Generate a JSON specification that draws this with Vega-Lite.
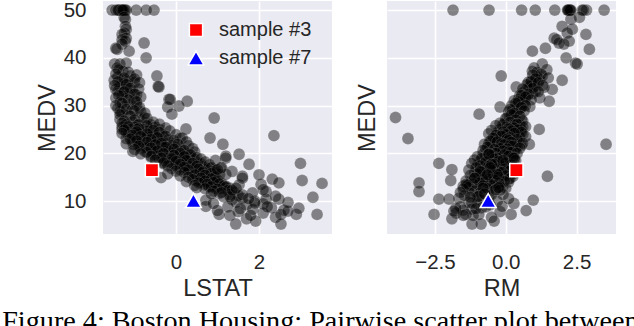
{
  "$schema": "https://vega.github.io/schema/vega-lite/v6.json",
  "background": "white",
  "padding": {"left": 2, "top": 0, "right": 0, "bottom": 0},
  "title": {"text": "Figure 4: Boston Housing: Pairwise scatter plot between", "orient": "bottom", "anchor": "start", "font": "Liberation Serif", "fontSize": 28.2, "fontWeight": "normal", "color": "black", "offset": 8, "dx": -33, "frame": "bounds"},
  "config": {
    "view": {"fill": "#EAEAF2", "stroke": null},
    "axis": {"domain": false, "ticks": false, "tickSize": 0, "grid": true, "gridColor": "white", "gridWidth": 1.6, "labelFont": "Liberation Sans", "labelFontSize": 20.5, "labelColor": "#262626", "titleFont": "Liberation Sans", "titleFontSize": 23.5, "titleFontWeight": "normal", "titleColor": "#262626", "labelPadding": 17},
    "axisX": {"labelPadding": 18.5, "titlePadding": 3},
    "axisY": {"titlePadding": 4}
  },
  "datasets": {
    "boston": [
      {"LSTAT":-1.54,"RM":2.25,"MEDV":50},{"LSTAT":-1.45,"RM":2.2,"MEDV":50},{"LSTAT":-1.35,"RM":2.3,"MEDV":50},{"LSTAT":-1.3,"RM":2.25,"MEDV":50},
      {"LSTAT":-1.28,"RM":2.22,"MEDV":50},{"LSTAT":-1.32,"RM":2.85,"MEDV":50},{"LSTAT":-1.25,"RM":2.75,"MEDV":50},{"LSTAT":-1.2,"RM":3.47,"MEDV":50},
      {"LSTAT":-1.38,"RM":1.73,"MEDV":50},{"LSTAT":-1.22,"RM":1.04,"MEDV":50},{"LSTAT":-0.96,"RM":0.56,"MEDV":50},{"LSTAT":-0.72,"RM":-0.59,"MEDV":50},
      {"LSTAT":-0.53,"RM":-1.86,"MEDV":50},{"LSTAT":-1.4,"RM":2.28,"MEDV":50},{"LSTAT":-1.3,"RM":2.7,"MEDV":50},{"LSTAT":-1.27,"RM":2.18,"MEDV":50},
      {"LSTAT":-1.22,"RM":2.3,"MEDV":48.1},{"LSTAT":-1.25,"RM":2.6,"MEDV":48.5},{"LSTAT":-1.22,"RM":1.99,"MEDV":46.6},{"LSTAT":-1.2,"RM":2.35,"MEDV":46},
      {"LSTAT":-1.24,"RM":2.17,"MEDV":45.2},{"LSTAT":-1.3,"RM":2.83,"MEDV":44.9},{"LSTAT":-1.2,"RM":1.71,"MEDV":44.1},{"LSTAT":-1.3,"RM":1.8,"MEDV":43.8},
      {"LSTAT":-1.22,"RM":2.24,"MEDV":43.5},{"LSTAT":-0.77,"RM":1.88,"MEDV":43.1},{"LSTAT":-1.3,"RM":2.05,"MEDV":42.9},{"LSTAT":-1.42,"RM":2.95,"MEDV":41.8},
      {"LSTAT":-1.13,"RM":0.94,"MEDV":41.4},{"LSTAT":-0.72,"RM":2.13,"MEDV":40},{"LSTAT":-1.2,"RM":2.46,"MEDV":38.9},{"LSTAT":-1.48,"RM":2.52,"MEDV":38.7},
      {"LSTAT":-1.49,"RM":1.99,"MEDV":35.3},
      {"LSTAT":-1.35,"RM":1.29,"MEDV":38.7},{"LSTAT":-1.42,"RM":1.0,"MEDV":37.9},{"LSTAT":-1.28,"RM":0.94,"MEDV":37.2},{"LSTAT":-1.1,"RM":1.29,"MEDV":36.2},
      {"LSTAT":-0.46,"RM":-0.16,"MEDV":36.2},{"LSTAT":-1.4,"RM":1.1,"MEDV":36},{"LSTAT":-1.3,"RM":1.2,"MEDV":35.4},{"LSTAT":-1.15,"RM":0.9,"MEDV":35.1},
      {"LSTAT":-1.45,"RM":1.64,"MEDV":33.4},{"LSTAT":-1.0,"RM":0.8,"MEDV":34.9},{"LSTAT":-0.41,"RM":0.37,"MEDV":33.9},{"LSTAT":-1.25,"RM":1.0,"MEDV":34.6},
      {"LSTAT":-1.35,"RM":0.85,"MEDV":34},{"LSTAT":-1.18,"RM":1.35,"MEDV":33.8},{"LSTAT":-1.05,"RM":0.7,"MEDV":33.2},{"LSTAT":-1.4,"RM":1.05,"MEDV":33},
      {"LSTAT":-1.28,"RM":0.6,"MEDV":32.7},{"LSTAT":-1.12,"RM":0.95,"MEDV":32.5},{"LSTAT":-0.95,"RM":0.5,"MEDV":32.2},{"LSTAT":-1.3,"RM":0.75,"MEDV":32},
      {"LSTAT":-1.45,"RM":1.2,"MEDV":31.6},{"LSTAT":-0.17,"RM":0.45,"MEDV":31.3},{"LSTAT":-1.2,"RM":0.55,"MEDV":31.5},{"LSTAT":-1.0,"RM":0.3,"MEDV":31},
      {"LSTAT":0.27,"RM":1.53,"MEDV":30.9},{"LSTAT":-1.35,"RM":0.65,"MEDV":30.7},{"LSTAT":-1.1,"RM":0.4,"MEDV":30.3},{"LSTAT":0.07,"RM":0.2,"MEDV":29.9},
      {"LSTAT":-0.95,"RM":0.6,"MEDV":30.1},{"LSTAT":-1.25,"RM":0.85,"MEDV":29.8},{"LSTAT":-0.2,"RM":-0.2,"MEDV":29.7},{"LSTAT":-1.4,"RM":0.5,"MEDV":29.4},
      {"LSTAT":-1.05,"RM":0.25,"MEDV":29.1},{"LSTAT":-0.85,"RM":0.1,"MEDV":28.7},{"LSTAT":-1.3,"RM":0.35,"MEDV":28.5},{"LSTAT":-0.1,"RM":-0.94,"MEDV":28.2},
      {"LSTAT":-1.15,"RM":0.3,"MEDV":28},{"LSTAT":-0.9,"RM":0.15,"MEDV":27.5},{"LSTAT":0.92,"RM":0.05,"MEDV":27.4},{"LSTAT":-1.35,"RM":0.55,"MEDV":27.1},
      {"LSTAT":-1.05,"RM":0.45,"MEDV":26.6},{"LSTAT":-0.75,"RM":0.2,"MEDV":26.4},{"LSTAT":-1.2,"RM":-0.05,"MEDV":26.2},{"LSTAT":-0.95,"RM":0.35,"MEDV":25.9},
      {"LSTAT":-1.3,"RM":0.1,"MEDV":25},
      {"LSTAT":-0.77,"RM":-3.89,"MEDV":27.5},{"LSTAT":0.1,"RM":-3.45,"MEDV":23.1},{"LSTAT":-1.03,"RM":3.54,"MEDV":21.9},{"LSTAT":2.36,"RM":-0.3,"MEDV":23.7},
      {"LSTAT":-0.6,"RM":1.18,"MEDV":25},{"LSTAT":-0.85,"RM":0.83,"MEDV":21.9},
      {"LSTAT":-0.43,"RM":1.0,"MEDV":34},{"LSTAT":-0.14,"RM":0.6,"MEDV":31.3},{"LSTAT":0.24,"RM":0.45,"MEDV":25.1},{"LSTAT":0.82,"RM":0.3,"MEDV":23.2},
      {"LSTAT":1.13,"RM":-0.2,"MEDV":21.9},{"LSTAT":1.2,"RM":-0.45,"MEDV":19.4},{"LSTAT":1.08,"RM":0.05,"MEDV":16.9},{"LSTAT":-1.45,"RM":1.4,"MEDV":42},
      {"LSTAT":-1.35,"RM":0.4,"MEDV":28.8},{"LSTAT":-1.04,"RM":-0.3,"MEDV":20.4},
      {"LSTAT":-1.38,"RM":1.45,"MEDV":37.5},{"LSTAT":-1.15,"RM":1.1,"MEDV":37},{"LSTAT":-1.45,"RM":1.25,"MEDV":36.6},{"LSTAT":-0.95,"RM":0.95,"MEDV":36.4},
      {"LSTAT":-1.25,"RM":1.5,"MEDV":35.8},{"LSTAT":-1.0,"RM":1.05,"MEDV":35.6},{"LSTAT":-1.4,"RM":0.9,"MEDV":35},{"LSTAT":-0.88,"RM":1.15,"MEDV":34.8},
      {"LSTAT":-1.2,"RM":0.75,"MEDV":34.4},{"LSTAT":-1.48,"RM":1.3,"MEDV":34.2},{"LSTAT":-1.1,"RM":0.95,"MEDV":33.6},{"LSTAT":-0.9,"RM":0.6,"MEDV":33.5},
      {"LSTAT":-1.25,"RM":1.15,"MEDV":32.9},{"LSTAT":-1.0,"RM":0.8,"MEDV":32.4},{"LSTAT":-1.38,"RM":0.55,"MEDV":32.1},{"LSTAT":-0.85,"RM":0.7,"MEDV":31.8},
      {"LSTAT":-1.15,"RM":0.9,"MEDV":31.2},{"LSTAT":-0.95,"RM":0.45,"MEDV":30.8},{"LSTAT":-1.3,"RM":0.35,"MEDV":30.5},{"LSTAT":-1.45,"RM":0.7,"MEDV":30},
      {"LSTAT":-0.88,"RM":0.55,"MEDV":29.6},{"LSTAT":-1.2,"RM":0.15,"MEDV":29.2},{"LSTAT":-1.0,"RM":0.65,"MEDV":28.9},{"LSTAT":-0.75,"RM":0.3,"MEDV":28.4},
      {"LSTAT":-1.35,"RM":0.2,"MEDV":28.1},{"LSTAT":-1.1,"RM":0.5,"MEDV":27.8},{"LSTAT":-0.7,"RM":0.0,"MEDV":27.3},{"LSTAT":-1.0,"RM":0.35,"MEDV":27},
      {"LSTAT":-1.25,"RM":0.6,"MEDV":26.8},{"LSTAT":-0.55,"RM":0.15,"MEDV":26.5},
      {"LSTAT":-1.2,"RM":0.5,"MEDV":26},{"LSTAT":-0.6,"RM":-0.1,"MEDV":26},{"LSTAT":-0.9,"RM":0.3,"MEDV":26},
      {"LSTAT":-1.0,"RM":0.0,"MEDV":25.5},{"LSTAT":-0.5,"RM":0.6,"MEDV":25.5},{"LSTAT":-1.3,"RM":0.25,"MEDV":25.5},
      {"LSTAT":-0.8,"RM":0.4,"MEDV":25},{"LSTAT":-1.1,"RM":-0.2,"MEDV":25},{"LSTAT":-0.4,"RM":0.1,"MEDV":25},{"LSTAT":-0.95,"RM":0.55,"MEDV":25},
      {"LSTAT":-0.7,"RM":0.2,"MEDV":24.6},{"LSTAT":-1.2,"RM":0.0,"MEDV":24.6},
      {"LSTAT":-0.55,"RM":-0.3,"MEDV":24.3},{"LSTAT":-0.85,"RM":0.45,"MEDV":24.3},{"LSTAT":-1.0,"RM":0.15,"MEDV":24.3},
      {"LSTAT":-0.65,"RM":0.3,"MEDV":24},{"LSTAT":-1.15,"RM":-0.1,"MEDV":24},{"LSTAT":-0.35,"RM":0.05,"MEDV":24},{"LSTAT":-0.9,"RM":0.6,"MEDV":24},
      {"LSTAT":-0.75,"RM":-0.2,"MEDV":23.7},{"LSTAT":-0.5,"RM":0.35,"MEDV":23.7},
      {"LSTAT":-1.05,"RM":0.25,"MEDV":23.4},{"LSTAT":-0.6,"RM":-0.05,"MEDV":23.4},{"LSTAT":-0.3,"RM":0.5,"MEDV":23.4},
      {"LSTAT":-0.8,"RM":0.1,"MEDV":23.1},{"LSTAT":-0.45,"RM":-0.35,"MEDV":23.1},{"LSTAT":-1.2,"RM":0.4,"MEDV":23.1},
      {"LSTAT":-0.65,"RM":0.0,"MEDV":22.8},{"LSTAT":-0.95,"RM":-0.25,"MEDV":22.8},{"LSTAT":-0.2,"RM":0.2,"MEDV":22.8},
      {"LSTAT":-0.5,"RM":0.45,"MEDV":22.5},{"LSTAT":-0.85,"RM":-0.1,"MEDV":22.5},{"LSTAT":-0.35,"RM":-0.5,"MEDV":22.5},{"LSTAT":-1.05,"RM":0.15,"MEDV":22.5},
      {"LSTAT":-0.6,"RM":0.3,"MEDV":22.2},{"LSTAT":-0.15,"RM":-0.2,"MEDV":22.2},{"LSTAT":-0.75,"RM":-0.4,"MEDV":22.2},
      {"LSTAT":-0.45,"RM":0.05,"MEDV":22},{"LSTAT":-0.9,"RM":0.35,"MEDV":22},{"LSTAT":-0.25,"RM":-0.6,"MEDV":22},
      {"LSTAT":-0.55,"RM":-0.15,"MEDV":21.7},{"LSTAT":-0.1,"RM":0.25,"MEDV":21.7},{"LSTAT":-0.8,"RM":0.55,"MEDV":21.7},{"LSTAT":-0.35,"RM":-0.35,"MEDV":21.7},
      {"LSTAT":-0.65,"RM":0.1,"MEDV":21.4},{"LSTAT":-0.2,"RM":-0.05,"MEDV":21.4},{"LSTAT":-0.45,"RM":0.4,"MEDV":21.4},
      {"LSTAT":0.0,"RM":-0.3,"MEDV":21.2},{"LSTAT":-0.7,"RM":-0.55,"MEDV":21.2},{"LSTAT":-0.3,"RM":0.2,"MEDV":21.2},
      {"LSTAT":-0.5,"RM":-0.2,"MEDV":21},{"LSTAT":-0.15,"RM":0.35,"MEDV":21},{"LSTAT":-0.85,"RM":0.0,"MEDV":21},{"LSTAT":0.1,"RM":-0.45,"MEDV":21},
      {"LSTAT":-0.4,"RM":0.15,"MEDV":20.7},{"LSTAT":-0.05,"RM":-0.25,"MEDV":20.7},{"LSTAT":-0.6,"RM":-0.7,"MEDV":20.7},
      {"LSTAT":-0.25,"RM":0.0,"MEDV":20.4},{"LSTAT":0.15,"RM":-0.5,"MEDV":20.4},{"LSTAT":-0.55,"RM":0.3,"MEDV":20.4},{"LSTAT":-0.75,"RM":-0.3,"MEDV":20.4},
      {"LSTAT":-0.1,"RM":-0.1,"MEDV":20.1},{"LSTAT":-0.4,"RM":-0.45,"MEDV":20.1},{"LSTAT":0.2,"RM":0.2,"MEDV":20.1},
      {"LSTAT":-0.3,"RM":-0.8,"MEDV":19.8},{"LSTAT":0.05,"RM":0.1,"MEDV":19.8},{"LSTAT":-0.55,"RM":-0.15,"MEDV":19.8},{"LSTAT":0.3,"RM":-0.35,"MEDV":19.8},
      {"LSTAT":-0.15,"RM":0.25,"MEDV":19.5},{"LSTAT":0.15,"RM":-0.6,"MEDV":19.5},{"LSTAT":-0.45,"RM":0.0,"MEDV":19.5},
      {"LSTAT":0.0,"RM":-0.3,"MEDV":19.2},{"LSTAT":-0.3,"RM":0.15,"MEDV":19.2},{"LSTAT":0.35,"RM":-0.1,"MEDV":19.2},{"LSTAT":-0.6,"RM":-0.5,"MEDV":19.2},
      {"LSTAT":0.1,"RM":-0.75,"MEDV":19},{"LSTAT":-0.2,"RM":-0.2,"MEDV":19},
      {"LSTAT":0.2,"RM":0.05,"MEDV":18.7},{"LSTAT":-0.1,"RM":-0.4,"MEDV":18.7},{"LSTAT":0.45,"RM":-0.55,"MEDV":18.7},{"LSTAT":-0.4,"RM":0.3,"MEDV":18.7},
      {"LSTAT":0.05,"RM":-0.15,"MEDV":18.4},{"LSTAT":0.3,"RM":-0.9,"MEDV":18.4},{"LSTAT":-0.25,"RM":-0.6,"MEDV":18.4},
      {"LSTAT":0.15,"RM":0.2,"MEDV":18.1},{"LSTAT":0.5,"RM":-0.3,"MEDV":18.1},{"LSTAT":-0.15,"RM":-0.05,"MEDV":18.1},
      {"LSTAT":0.3,"RM":-0.5,"MEDV":17.8},{"LSTAT":0.0,"RM":-0.75,"MEDV":17.8},{"LSTAT":0.6,"RM":0.0,"MEDV":17.8},{"LSTAT":-0.3,"RM":-0.3,"MEDV":17.8},
      {"LSTAT":0.2,"RM":-0.2,"MEDV":17.5},{"LSTAT":0.45,"RM":-1.0,"MEDV":17.5},{"LSTAT":-0.05,"RM":0.1,"MEDV":17.5},
      {"LSTAT":0.35,"RM":-0.45,"MEDV":17.2},{"LSTAT":0.65,"RM":-0.15,"MEDV":17.2},{"LSTAT":0.1,"RM":-0.65,"MEDV":17.2},
      {"LSTAT":0.5,"RM":-0.3,"MEDV":16.9},{"LSTAT":0.25,"RM":0.05,"MEDV":16.9},{"LSTAT":0.8,"RM":-0.8,"MEDV":16.9},
      {"LSTAT":0.4,"RM":-0.6,"MEDV":16.6},{"LSTAT":0.7,"RM":-0.1,"MEDV":16.6},{"LSTAT":0.1,"RM":-0.9,"MEDV":16.6},
      {"LSTAT":0.55,"RM":-0.35,"MEDV":16.2},{"LSTAT":0.3,"RM":-0.75,"MEDV":16.2},{"LSTAT":0.85,"RM":0.15,"MEDV":16.2},
      {"LSTAT":0.65,"RM":-0.5,"MEDV":15.9},{"LSTAT":0.45,"RM":-0.2,"MEDV":15.9},{"LSTAT":0.95,"RM":-1.1,"MEDV":15.9},
      {"LSTAT":0.75,"RM":-0.3,"MEDV":15.6},{"LSTAT":0.5,"RM":-0.85,"MEDV":15.6},{"LSTAT":1.05,"RM":-0.05,"MEDV":15.6},
      {"LSTAT":0.6,"RM":-0.6,"MEDV":15.2},{"LSTAT":0.85,"RM":-0.4,"MEDV":15.2},{"LSTAT":0.4,"RM":0.25,"MEDV":15.2},
      {"LSTAT":0.7,"RM":-0.95,"MEDV":14.9},{"LSTAT":-0.36,"RM":-0.7,"MEDV":14.9},{"LSTAT":0.95,"RM":-0.2,"MEDV":14.9},
      {"LSTAT":0.55,"RM":-0.45,"MEDV":14.6},{"LSTAT":0.8,"RM":-0.75,"MEDV":14.6},{"LSTAT":2.32,"RM":0.1,"MEDV":14.6},
      {"LSTAT":0.65,"RM":-0.15,"MEDV":14.3},{"LSTAT":0.9,"RM":-1.2,"MEDV":14.3},{"LSTAT":0.5,"RM":-0.55,"MEDV":14.3},
      {"LSTAT":0.75,"RM":-0.35,"MEDV":14},{"LSTAT":1.0,"RM":-0.8,"MEDV":14},{"LSTAT":0.6,"RM":0.1,"MEDV":14},
      {"LSTAT":0.85,"RM":-0.6,"MEDV":13.7},{"LSTAT":3.52,"RM":-0.9,"MEDV":13.7},{"LSTAT":1.1,"RM":-0.25,"MEDV":13.7},
      {"LSTAT":1.52,"RM":-1.3,"MEDV":13.4},{"LSTAT":0.9,"RM":-0.45,"MEDV":13.4},{"LSTAT":0.7,"RM":-0.95,"MEDV":13.4},
      {"LSTAT":1.0,"RM":-0.7,"MEDV":13.1},{"LSTAT":1.2,"RM":-0.1,"MEDV":13.1},{"LSTAT":0.8,"RM":-1.5,"MEDV":13.1},
      {"LSTAT":1.1,"RM":-0.55,"MEDV":12.7},{"LSTAT":1.3,"RM":-1.0,"MEDV":12.7},{"LSTAT":0.95,"RM":0.0,"MEDV":12.7},
      {"LSTAT":-1.3,"RM":-0.2,"MEDV":26.3},{"LSTAT":-0.4,"RM":0.4,"MEDV":26.1},{"LSTAT":-0.7,"RM":-0.35,"MEDV":25.8},{"LSTAT":-1.15,"RM":0.7,"MEDV":25.6},
      {"LSTAT":-0.25,"RM":0.3,"MEDV":25.3},{"LSTAT":-0.9,"RM":0.1,"MEDV":25.2},{"LSTAT":-1.25,"RM":0.45,"MEDV":24.9},{"LSTAT":-0.55,"RM":-0.5,"MEDV":24.8},
      {"LSTAT":-0.15,"RM":0.2,"MEDV":24.7},{"LSTAT":-0.95,"RM":-0.1,"MEDV":24.5},{"LSTAT":-0.4,"RM":0.55,"MEDV":24.4},{"LSTAT":-1.3,"RM":0.3,"MEDV":24.2},
      {"LSTAT":-0.7,"RM":-0.6,"MEDV":24.1},{"LSTAT":0.0,"RM":0.0,"MEDV":23.9},{"LSTAT":-1.05,"RM":-0.35,"MEDV":23.8},{"LSTAT":-0.25,"RM":-0.15,"MEDV":23.6},
      {"LSTAT":-0.85,"RM":0.7,"MEDV":23.5},{"LSTAT":-0.45,"RM":0.15,"MEDV":23.3},{"LSTAT":0.15,"RM":-0.45,"MEDV":23.2},{"LSTAT":-1.1,"RM":0.05,"MEDV":23},
      {"LSTAT":-0.6,"RM":0.4,"MEDV":22.9},{"LSTAT":-0.05,"RM":0.1,"MEDV":22.7},{"LSTAT":-0.95,"RM":-0.55,"MEDV":22.6},{"LSTAT":0.25,"RM":-0.3,"MEDV":22.4},
      {"LSTAT":-0.7,"RM":0.2,"MEDV":22.3},{"LSTAT":-0.35,"RM":0.6,"MEDV":22.1},{"LSTAT":-1.2,"RM":-0.15,"MEDV":22},{"LSTAT":0.05,"RM":-0.75,"MEDV":21.9},
      {"LSTAT":-0.5,"RM":-0.05,"MEDV":21.8},{"LSTAT":0.3,"RM":0.15,"MEDV":21.6},{"LSTAT":-0.9,"RM":0.25,"MEDV":21.5},{"LSTAT":-0.25,"RM":-0.65,"MEDV":21.3},
      {"LSTAT":-0.6,"RM":0.5,"MEDV":21.1},{"LSTAT":0.4,"RM":-0.2,"MEDV":21},{"LSTAT":-0.05,"RM":0.05,"MEDV":20.9},{"LSTAT":-1.0,"RM":-0.4,"MEDV":20.8},
      {"LSTAT":0.2,"RM":-0.8,"MEDV":20.6},{"LSTAT":-0.45,"RM":-0.1,"MEDV":20.5},{"LSTAT":0.45,"RM":0.1,"MEDV":20.3},{"LSTAT":-0.7,"RM":0.2,"MEDV":20.2},
      {"LSTAT":0.1,"RM":-0.35,"MEDV":20},{"LSTAT":-0.3,"RM":0.4,"MEDV":20},{"LSTAT":-0.85,"RM":-0.6,"MEDV":19.9},{"LSTAT":0.35,"RM":-0.05,"MEDV":19.7},
      {"LSTAT":-0.05,"RM":-0.5,"MEDV":19.6},{"LSTAT":-0.6,"RM":0.1,"MEDV":19.4},{"LSTAT":0.2,"RM":-1.0,"MEDV":19.3},{"LSTAT":0.5,"RM":0.25,"MEDV":19.1},
      {"LSTAT":-0.35,"RM":-0.3,"MEDV":19},{"LSTAT":-0.1,"RM":-0.85,"MEDV":18.9},{"LSTAT":0.6,"RM":-0.4,"MEDV":18.8},{"LSTAT":-0.5,"RM":-1.1,"MEDV":18.6},
      {"LSTAT":0.25,"RM":0.35,"MEDV":18.5},{"LSTAT":0.0,"RM":-0.25,"MEDV":18.3},{"LSTAT":0.7,"RM":-0.7,"MEDV":18.2},{"LSTAT":-0.3,"RM":0.0,"MEDV":18},
      {"LSTAT":0.4,"RM":-1.2,"MEDV":17.9},{"LSTAT":0.1,"RM":-0.4,"MEDV":17.7},{"LSTAT":0.8,"RM":0.2,"MEDV":17.6},{"LSTAT":-0.2,"RM":-0.9,"MEDV":17.4},
      {"LSTAT":0.5,"RM":-0.6,"MEDV":17.3},{"LSTAT":0.2,"RM":0.3,"MEDV":17.1},{"LSTAT":0.85,"RM":-1.05,"MEDV":17},{"LSTAT":-0.1,"RM":-0.3,"MEDV":16.8},
      {"LSTAT":0.55,"RM":-0.05,"MEDV":16.7},{"LSTAT":0.3,"RM":-1.3,"MEDV":16.5},{"LSTAT":0.95,"RM":-0.5,"MEDV":16.4},{"LSTAT":0.0,"RM":0.15,"MEDV":16.3},
      {"LSTAT":0.65,"RM":-0.85,"MEDV":16.1},{"LSTAT":0.2,"RM":-0.15,"MEDV":16},{"LSTAT":0.85,"RM":0.3,"MEDV":15.8},{"LSTAT":-0.2,"RM":-1.0,"MEDV":15.7},
      {"LSTAT":0.45,"RM":-0.45,"MEDV":15.5},{"LSTAT":0.7,"RM":-1.25,"MEDV":15.4},{"LSTAT":0.1,"RM":0.0,"MEDV":15.3},{"LSTAT":0.95,"RM":-0.7,"MEDV":15.1},
      {"LSTAT":0.3,"RM":-0.25,"MEDV":15},{"LSTAT":0.6,"RM":-1.1,"MEDV":14.8},{"LSTAT":0.85,"RM":0.15,"MEDV":14.7},{"LSTAT":0.4,"RM":-0.8,"MEDV":14.5},
      {"LSTAT":1.0,"RM":-0.4,"MEDV":14.4},{"LSTAT":0.7,"RM":-1.4,"MEDV":14.2},{"LSTAT":0.25,"RM":-0.05,"MEDV":14.1},{"LSTAT":0.9,"RM":-0.9,"MEDV":13.9},
      {"LSTAT":0.55,"RM":-0.25,"MEDV":13.8},{"LSTAT":1.05,"RM":-1.15,"MEDV":13.6},{"LSTAT":0.75,"RM":-0.55,"MEDV":13.5},{"LSTAT":0.45,"RM":-1.35,"MEDV":13.3},
      {"LSTAT":1.15,"RM":-0.8,"MEDV":13.2},{"LSTAT":0.85,"RM":-0.2,"MEDV":13},{"LSTAT":1.2,"RM":-1.3,"MEDV":12.9},{"LSTAT":0.7,"RM":-0.65,"MEDV":12.6},
      {"LSTAT":1.0,"RM":-1.5,"MEDV":12.5},{"LSTAT":1.25,"RM":-0.4,"MEDV":12.2},{"LSTAT":0.9,"RM":-1.1,"MEDV":12.1},{"LSTAT":1.4,"RM":-0.75,"MEDV":11.9},
      {"LSTAT":1.05,"RM":-1.25,"MEDV":11.6},{"LSTAT":1.3,"RM":-0.1,"MEDV":11.4},{"LSTAT":1.5,"RM":-1.45,"MEDV":11.2},{"LSTAT":1.15,"RM":-0.6,"MEDV":10.9},
      {"LSTAT":1.6,"RM":-1.65,"MEDV":10.6},{"LSTAT":1.35,"RM":-0.95,"MEDV":10.3},{"LSTAT":1.9,"RM":-0.3,"MEDV":10},{"LSTAT":1.45,"RM":-1.3,"MEDV":9.8},
      {"LSTAT":2.1,"RM":-1.0,"MEDV":9.4},{"LSTAT":1.7,"RM":-0.55,"MEDV":9.2},{"LSTAT":1.25,"RM":-1.6,"MEDV":8.8},{"LSTAT":2.3,"RM":-0.85,"MEDV":8.6},
      {"LSTAT":1.85,"RM":-1.2,"MEDV":8.3},{"LSTAT":2.6,"RM":-1.5,"MEDV":8.1},{"LSTAT":1.5,"RM":-0.2,"MEDV":7.8},{"LSTAT":2.1,"RM":-1.75,"MEDV":7.5},
      {"LSTAT":2.9,"RM":-0.95,"MEDV":7.2},{"LSTAT":1.3,"RM":-1.15,"MEDV":7},{"LSTAT":2.4,"RM":-0.5,"MEDV":6.6},{"LSTAT":1.7,"RM":-1.9,"MEDV":6.3},
      {"LSTAT":1.84,"RM":-0.9,"MEDV":11.7},{"LSTAT":2.05,"RM":-1.4,"MEDV":13.5},{"LSTAT":1.2,"RM":-0.3,"MEDV":15.6},{"LSTAT":1.2,"RM":0.3,"MEDV":19},
      {"LSTAT":1.52,"RM":-0.6,"MEDV":19.8},{"LSTAT":1.76,"RM":-0.5,"MEDV":17.7},{"LSTAT":3.0,"RM":-2.36,"MEDV":17.9},{"LSTAT":3.04,"RM":-1.94,"MEDV":14.3},
      {"LSTAT":1.6,"RM":1.47,"MEDV":15.2},{"LSTAT":2.48,"RM":-3.06,"MEDV":13.8},{"LSTAT":2.17,"RM":-3.06,"MEDV":12},{"LSTAT":2.48,"RM":-2.36,"MEDV":10.4},
      {"LSTAT":2.17,"RM":-2.0,"MEDV":10.4},{"LSTAT":0.72,"RM":0.97,"MEDV":10.2},{"LSTAT":2.96,"RM":-1.76,"MEDV":8.5},{"LSTAT":3.4,"RM":-2.53,"MEDV":7.2},
      {"LSTAT":2.53,"RM":-1.4,"MEDV":7.2},{"LSTAT":2.7,"RM":-1.83,"MEDV":7.9},{"LSTAT":2.53,"RM":-1.19,"MEDV":5.2},{"LSTAT":1.92,"RM":-0.41,"MEDV":5.8},
      {"LSTAT":1.44,"RM":-0.87,"MEDV":5.2},{"LSTAT":1.04,"RM":0.19,"MEDV":7.2},{"LSTAT":1.0,"RM":0.72,"MEDV":8.0},{"LSTAT":0.72,"RM":-0.13,"MEDV":8.9},
      {"LSTAT":0.9,"RM":0.29,"MEDV":9.5},{"LSTAT":1.3,"RM":-1.0,"MEDV":10.9},{"LSTAT":1.6,"RM":-0.5,"MEDV":11.3},{"LSTAT":1.9,"RM":-1.2,"MEDV":9.6},
      {"LSTAT":2.2,"RM":-0.7,"MEDV":8.8},{"LSTAT":1.1,"RM":-1.6,"MEDV":11.8},{"LSTAT":1.35,"RM":-0.2,"MEDV":12.3},{"LSTAT":1.45,"RM":-0.8,"MEDV":12.7},
      {"LSTAT":2.4,"RM":-0.95,"MEDV":11},{"LSTAT":1.75,"RM":0.1,"MEDV":10.5},{"LSTAT":1.55,"RM":-1.05,"MEDV":8.4},{"LSTAT":2.7,"RM":-0.6,"MEDV":9.7},
      {"LSTAT":3.3,"RM":-1.25,"MEDV":10.8},{"LSTAT":2.1,"RM":-0.35,"MEDV":12.4},{"LSTAT":0.85,"RM":-0.75,"MEDV":11.5},{"LSTAT":0.5,"RM":-0.25,"MEDV":12.8},
      {"LSTAT":1.8,"RM":-1.5,"MEDV":7},{"LSTAT":1.1,"RM":-0.55,"MEDV":17},{"LSTAT":1.35,"RM":-0.9,"MEDV":16.2},{"LSTAT":0.95,"RM":-0.1,"MEDV":18.5},
      {"LSTAT":1.6,"RM":-1.1,"MEDV":14.8},{"LSTAT":2.0,"RM":-0.65,"MEDV":15.5},{"LSTAT":1.0,"RM":-1.9,"MEDV":16.6}
    ],
    "samples": [
      {"sample":"sample #3","LSTAT":-0.58,"RM":0.375,"MEDV":16.5},
      {"sample":"sample #7","LSTAT":0.42,"RM":-0.62,"MEDV":10.1}
    ]
  },
  "resolve": {"scale": {"color": "independent", "shape": "independent"}},
  "spacing": 55,
  "bounds": "flush",
  "hconcat": [
    {
      "width": 229, "height": 233,
      "layer": [
        {
          "data": {"name": "boston"},
          "mark": {"type": "circle", "size": 140, "fill": "black", "fillOpacity": 0.45, "stroke": "white", "strokeWidth": 0.7, "strokeOpacity": 0.2},
          "encoding": {
            "x": {"field": "LSTAT", "type": "quantitative", "scale": {"domain": [-1.76, 3.76], "nice": false, "zero": false}, "axis": {"values": [0, 2], "title": "LSTAT"}},
            "y": {"field": "MEDV", "type": "quantitative", "scale": {"domain": [3.1, 51.9], "nice": false, "zero": false}, "axis": {"values": [10, 20, 30, 40, 50], "title": "MEDV"}}
          }
        },
        {
          "data": {"name": "samples"},
          "mark": {"type": "point", "filled": true, "size": 175, "stroke": "white", "strokeWidth": 1.5, "opacity": 1},
          "encoding": {
            "x": {"field": "LSTAT", "type": "quantitative"},
            "y": {"field": "MEDV", "type": "quantitative"},
            "color": {"field": "sample", "type": "nominal", "scale": {"domain": ["sample #3", "sample #7"], "range": ["#ff0000", "#0000ff"]},
              "legend": {"title": null, "orient": "none", "legendX": 83, "legendY": 19, "symbolSize": 175, "labelFont": "Liberation Sans", "labelFontSize": 20, "labelColor": "#262626", "rowPadding": 8, "labelOffset": 13, "symbolStrokeColor": "white", "symbolStrokeWidth": 1.5, "padding": 0}},
            "shape": {"field": "sample", "type": "nominal", "scale": {"domain": ["sample #3", "sample #7"], "range": ["square", "M0,-1.05L1.2,1.05L-1.2,1.05Z"]}}
          }
        }
      ]
    },
    {
      "width": 229, "height": 233,
      "layer": [
        {
          "data": {"name": "boston"},
          "mark": {"type": "circle", "size": 140, "fill": "black", "fillOpacity": 0.45, "stroke": "white", "strokeWidth": 0.7, "strokeOpacity": 0.2},
          "encoding": {
            "x": {"field": "RM", "type": "quantitative", "scale": {"domain": [-4.19, 3.89], "nice": false, "zero": false}, "axis": {"values": [-2.5, 0, 2.5], "format": ".1f", "title": "RM"}},
            "y": {"field": "MEDV", "type": "quantitative", "scale": {"domain": [3.1, 51.9], "nice": false, "zero": false}, "axis": {"values": [10, 20, 30, 40, 50], "labels": false, "title": "MEDV", "titlePadding": 8}}
          }
        },
        {
          "data": {"name": "samples"},
          "mark": {"type": "point", "filled": true, "size": 175, "stroke": "white", "strokeWidth": 1.5, "opacity": 1},
          "encoding": {
            "x": {"field": "RM", "type": "quantitative"},
            "y": {"field": "MEDV", "type": "quantitative"},
            "color": {"field": "sample", "type": "nominal", "scale": {"domain": ["sample #3", "sample #7"], "range": ["#ff0000", "#0000ff"]}, "legend": null},
            "shape": {"field": "sample", "type": "nominal", "scale": {"domain": ["sample #3", "sample #7"], "range": ["square", "M0,-1.05L1.2,1.05L-1.2,1.05Z"]}, "legend": null}
          }
        }
      ]
    }
  ]
}
